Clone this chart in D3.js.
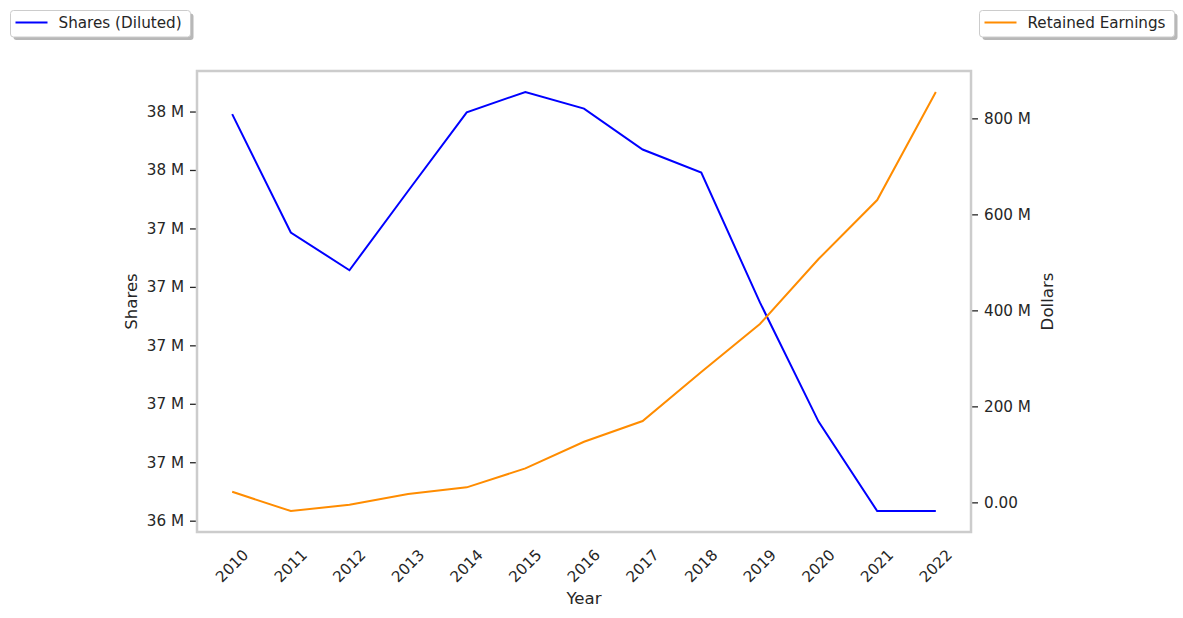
<script src="https://d3js.org/d3.v7.min.js"></script>
<body style="margin:0;background:#fff">
<script>
    // Data
    var years = [2010, 2011, 2012, 2013, 2014, 2015, 2016, 2017, 2018, 2019, 2020, 2021, 2022];
    var sharesDiluted = [37.791e6, 37.386e6, 37.257e6, 37.528e6, 37.797e6, 37.867e6, 37.810e6,
                         37.670e6, 37.591e6, 37.147e6, 36.739e6, 36.433e6, 36.433e6];
    var retainedEarnings = [22.1e6, -18.1e6, -5.0e6, 17.3e6, 31.3e6, 70.8e6, 126.3e6,
                            169.4e6, 271.5e6, 371.5e6, 506.9e6, 629.8e6, 855e6];
    var sharesTicks = [36.4e6, 36.6e6, 36.8e6, 37.0e6, 37.2e6, 37.4e6, 37.6e6, 37.8e6];
    var dollarTicks = [0, 200e6, 400e6, 600e6, 800e6];

    // SVG dimensions
    var SVGWidth = 1183, SVGHeight = 618;
    var plot = {left: 197, right: 971, top: 71, bottom: 532};
    var textColor = "#262626";
    var font = "DejaVu Sans, sans-serif";
    var tickFont = "15.2px", labelFont = "16.6px";

    var svg = d3.select("body")
        .append("svg")
        .attr("width", SVGWidth)
        .attr("height", SVGHeight)
        .style("font-family", font);

    // matplotlib-like 5% padding
    function padded(vals) {
        var lo = d3.min(vals), hi = d3.max(vals), m = (hi - lo) * 0.05;
        return [lo - m, hi + m];
    }

    var x = d3.scaleLinear()
        .domain([years[0] - 0.6, years[years.length - 1] + 0.6])
        .range([plot.left, plot.right]);
    var yL = d3.scaleLinear().domain(padded(sharesDiluted)).range([plot.bottom, plot.top]);
    var yR = d3.scaleLinear().domain(padded(retainedEarnings)).range([plot.bottom, plot.top]);

    // Axes
    var leftAxis = svg.append("g")
        .attr("transform", "translate(" + (plot.left - 1) + ",0)")
        .call(d3.axisLeft(yL).tickValues(sharesTicks).tickSize(6).tickPadding(6)
            .tickFormat(function(d) { return Math.round(d / 1e6) + " M"; }));

    var rightAxis = svg.append("g")
        .attr("transform", "translate(" + (plot.right + 1) + ",0)")
        .call(d3.axisRight(yR).tickValues(dollarTicks).tickSize(6).tickPadding(6)
            .tickFormat(function(d) { return d === 0 ? "0.00" : (d / 1e6) + " M"; }));

    [leftAxis, rightAxis].forEach(function(g) {
        g.select(".domain").remove();
        g.selectAll("line").attr("stroke", textColor).attr("stroke-width", 1.3);
        g.selectAll("text").attr("fill", textColor)
            .style("font-size", tickFont).style("font-family", font);
    });

    // X tick labels (rotated)
    svg.append("g").selectAll("text")
        .data(years)
        .enter()
        .append("text")
        .attr("transform", function(d) { return "translate(" + x(d) + ",566) rotate(-45)"; })
        .attr("text-anchor", "middle")
        .attr("dominant-baseline", "central")
        .attr("fill", textColor)
        .style("font-size", tickFont)
        .text(function(d) { return d; });

    // Frame
    svg.append("rect")
        .attr("x", plot.left)
        .attr("y", plot.top)
        .attr("width", plot.right - plot.left)
        .attr("height", plot.bottom - plot.top)
        .attr("fill", "none")
        .attr("stroke", "#cccccc")
        .attr("stroke-width", 2.5);

    // Lines
    var lineL = d3.line()
        .x(function(d, i) { return x(years[i]); })
        .y(function(d) { return yL(d); });
    var lineR = d3.line()
        .x(function(d, i) { return x(years[i]); })
        .y(function(d) { return yR(d); });

    svg.append("path")
        .datum(sharesDiluted)
        .attr("d", lineL)
        .attr("fill", "none")
        .attr("stroke", "#0000ff")
        .attr("stroke-width", 2);

    svg.append("path")
        .datum(retainedEarnings)
        .attr("d", lineR)
        .attr("fill", "none")
        .attr("stroke", "#ff8c00")
        .attr("stroke-width", 2);

    // Axis labels
    svg.append("text")
        .attr("x", (plot.left + plot.right) / 2)
        .attr("y", 604)
        .attr("text-anchor", "middle")
        .attr("fill", textColor)
        .style("font-size", labelFont)
        .text("Year");

    svg.append("text")
        .attr("transform", "translate(137," + ((plot.top + plot.bottom) / 2) + ") rotate(-90)")
        .attr("text-anchor", "middle")
        .attr("fill", textColor)
        .style("font-size", labelFont)
        .text("Shares");

    svg.append("text")
        .attr("transform", "translate(1053," + ((plot.top + plot.bottom) / 2) + ") rotate(-90)")
        .attr("text-anchor", "middle")
        .attr("fill", textColor)
        .style("font-size", labelFont)
        .text("Dollars");

    // Legends
    function legend(x0, w, label, color) {
        var g = svg.append("g");
        g.append("rect")
            .attr("x", x0 + 3).attr("y", 13.5)
            .attr("width", w).attr("height", 26.5)
            .attr("rx", 3)
            .attr("fill", "#888").attr("opacity", 0.6);
        g.append("rect")
            .attr("x", x0).attr("y", 10.5)
            .attr("width", w).attr("height", 26.5)
            .attr("rx", 3)
            .attr("fill", "#fff")
            .attr("stroke", "#cccccc").attr("stroke-width", 1);
        g.append("line")
            .attr("x1", x0 + 5).attr("x2", x0 + 37)
            .attr("y1", 22.5).attr("y2", 22.5)
            .attr("stroke", color).attr("stroke-width", 2);
        g.append("text")
            .attr("x", x0 + 48).attr("y", 28)
            .attr("fill", textColor)
            .style("font-size", tickFont)
            .text(label);
    }
    legend(10.5, 180, "Shares (Diluted)", "#0000ff");
    legend(979.5, 195, "Retained Earnings", "#ff8c00");
</script>
</body>
